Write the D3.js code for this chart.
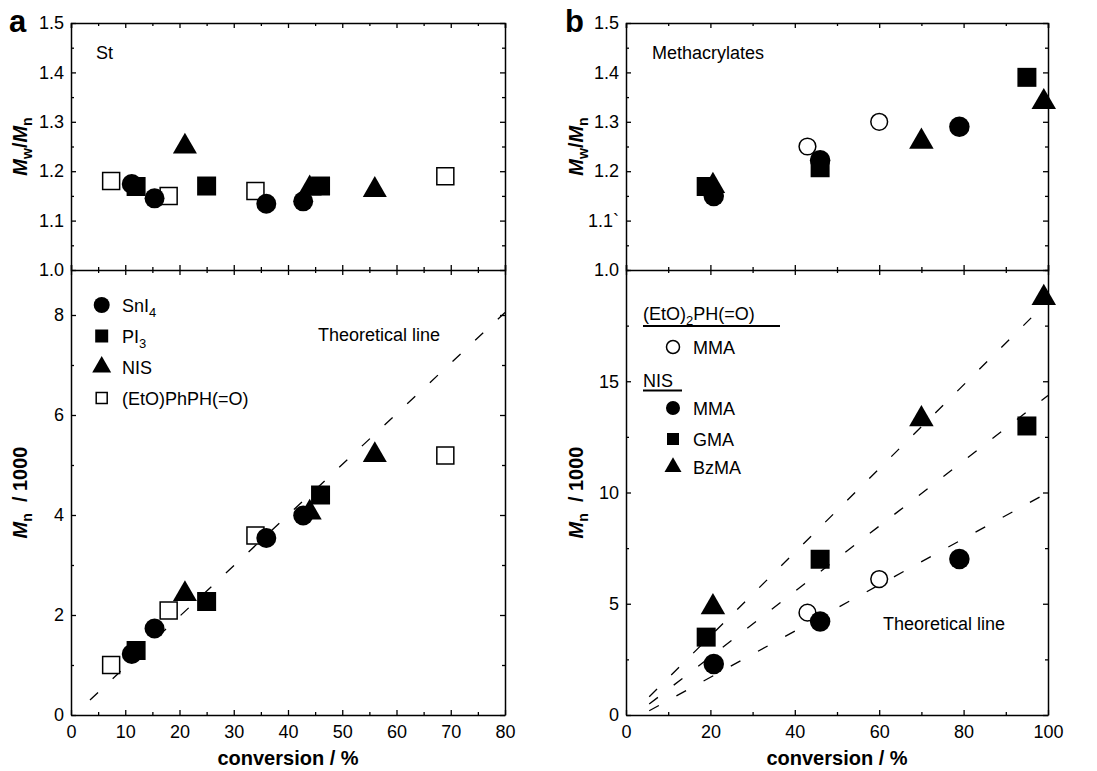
<!DOCTYPE html>
<html>
<head>
<meta charset="utf-8">
<script src="https://cdn.jsdelivr.net/npm/d3@7"></script>
<style>
  body { margin: 0; background: #fff; }
  svg { font-family: "Liberation Sans", Arial, sans-serif; }
  .axis text { font-size: 18px; fill: #000; }
  .axis path, .axis line { stroke: #000; }
  .axis path { stroke-width: 1.5; }
  .axis line { stroke-width: 1.3; }
  .lbl { font-size: 18px; fill: #000; }
</style>
</head>
<body>
<svg id="chart" width="1097" height="771"></svg>
<script>
// ---- panel a : St (conversion %, Mw/Mn, Mn/1000)
const aSnI4Conv = [11.2, 15.4, 36, 42.8];
const aSnI4Pdi  = [1.174, 1.145, 1.134, 1.139];
const aSnI4Mn   = [1.22, 1.73, 3.54, 3.99];

const aPI3Conv = [12, 25, 46];
const aPI3Pdi  = [1.169, 1.170, 1.170];
const aPI3Mn   = [1.29, 2.27, 4.40];

const aNISConv = [21, 44, 56];
const aNISPdi  = [1.25, 1.165, 1.162];
const aNISMn   = [2.42, 4.05, 5.2];

const aEtOConv = [7.4, 18, 34, 69];
const aEtOPdi  = [1.18, 1.15, 1.16, 1.19];
const aEtOMn   = [1.0, 2.09, 3.59, 5.19];

const aTheory = [[3.5, 0.3], [80, 8.05]];

// ---- panel b : methacrylates
const bEtO2MMAConv = [43, 60];
const bEtO2MMAPdi  = [1.25, 1.30];
const bEtO2MMAMn   = [4.6, 6.11];

const bMMAConv = [20.8, 46, 79];
const bMMAPdi  = [1.15, 1.222, 1.29];
const bMMAMn   = [2.29, 4.2, 7.01];

const bGMAConv = [19, 46, 95];
const bGMAPdi  = [1.169, 1.207, 1.39];
const bGMAMn   = [3.5, 7.0, 12.99];

const bBzMAConv = [20.6, 70, 99];
const bBzMAPdi  = [1.17, 1.26, 1.34];
const bBzMAMn   = [4.85, 13.3, 18.75];

const bTheoryMMA  = [[5.5, 0.19], [100, 10.0]];
const bTheoryGMA  = [[5.5, 0.49], [100, 14.36]];
const bTheoryBzMA = [[5.5, 0.82], [100, 18.6]];

// ---- ticks
const pdiTicks = [1.0, 1.1, 1.2, 1.3, 1.4, 1.5];
const pdiMinor = [1.05, 1.15, 1.25, 1.35, 1.45];
const aPdiLabels = ["1.0", "1.1", "1.2", "1.3", "1.4", "1.5"];
const bPdiLabels = ["1.0", "1.1`", "1.2", "1.3", "1.4", "1.5"];

const aXTicks = [0, 10, 20, 30, 40, 50, 60, 70, 80];
const aXMinor = [5, 15, 25, 35, 45, 55, 65, 75];
const aMnTicks = [0, 2, 4, 6, 8];
const aMnMinor = [1, 3, 5, 7];

const bXTicks = [0, 20, 40, 60, 80, 100];
const bXMinor = [10, 30, 50, 70, 90];
const bMnTicks = [0, 5, 10, 15];
const bMnMinor = [2.5, 7.5, 12.5, 17.5, 20];

const svg = d3.select("#chart");

const symbols = { circle: d3.symbolCircle, square: d3.symbolSquare, triangle: d3.symbolTriangle };

function marker(g, shape, size, open, x, y) {
  g.append("path")
    .attr("transform", `translate(${x},${y})`)
    .attr("d", d3.symbol(symbols[shape], size)())
    .attr("fill", open ? "#fff" : "#000")
    .attr("stroke", "#000")
    .attr("stroke-width", open ? 1.5 : 0);
}

function series(g, xs, ys, xScale, yScale, shape, size, open) {
  g.selectAll(null)
    .data(d3.zip(xs, ys))
    .join("path")
    .attr("transform", d => `translate(${xScale(d[0])},${yScale(d[1])})`)
    .attr("d", d3.symbol(symbols[shape], size)())
    .attr("fill", open ? "#fff" : "#000")
    .attr("stroke", "#000")
    .attr("stroke-width", open ? 1.5 : 0);
}

function theory(g, pts, xScale, yScale) {
  g.append("path")
    .datum(pts)
    .attr("fill", "none")
    .attr("stroke", "#000")
    .attr("stroke-width", 1.3)
    .attr("stroke-dasharray", "11,20")
    .attr("d", d3.line().x(d => xScale(d[0])).y(d => yScale(d[1])));
}

function addAxis(axis, tx, ty, minor) {
  const g = svg.append("g").attr("class", "axis")
    .attr("transform", `translate(${tx},${ty})`)
    .call(axis);
  if (minor) g.select(".domain").remove();
  return g;
}

function panel(p) {
  const x = d3.scaleLinear().domain(p.xDom).range([p.left, p.right]);
  const yT = d3.scaleLinear().domain([1.0, 1.5]).range([p.mid, p.top]);
  const yB = d3.scaleLinear().domain(p.mnDom).range([p.bottom, p.mid]);

  // x axes: bottom (labelled), divider (both sides), top
  addAxis(d3.axisBottom(x).tickValues(p.xTicks).tickSizeInner(-5).tickSizeOuter(0)
    .tickPadding(10).tickFormat(d3.format("d")), 0, p.bottom);
  addAxis(d3.axisBottom(x).tickValues(p.xMinor).tickSize(-3).tickFormat(""), 0, p.bottom, true);
  addAxis(d3.axisBottom(x).tickValues(p.xTicks).tickSize(-5).tickFormat(""), 0, p.mid);
  addAxis(d3.axisBottom(x).tickValues(p.xMinor).tickSize(-3).tickFormat(""), 0, p.mid, true);
  addAxis(d3.axisTop(x).tickValues(p.xTicks).tickSize(-5).tickFormat(""), 0, p.mid, true);
  addAxis(d3.axisTop(x).tickValues(p.xMinor).tickSize(-3).tickFormat(""), 0, p.mid, true);
  addAxis(d3.axisTop(x).tickValues(p.xTicks).tickSize(-5).tickFormat(""), 0, p.top);
  addAxis(d3.axisTop(x).tickValues(p.xMinor).tickSize(-3).tickFormat(""), 0, p.top, true);

  // y axes top panel
  addAxis(d3.axisLeft(yT).tickValues(pdiTicks).tickSizeInner(-5).tickSizeOuter(0)
    .tickPadding(7).tickFormat((d, i) => p.pdiLabels[i]), p.left, 0);
  addAxis(d3.axisLeft(yT).tickValues(pdiMinor).tickSize(-3).tickFormat(""), p.left, 0, true);
  addAxis(d3.axisRight(yT).tickValues(pdiTicks).tickSizeInner(-5).tickSizeOuter(0).tickFormat(""), p.right, 0);
  addAxis(d3.axisRight(yT).tickValues(pdiMinor).tickSize(-3).tickFormat(""), p.right, 0, true);

  // y axes bottom panel
  addAxis(d3.axisLeft(yB).tickValues(p.mnTicks).tickSizeInner(-5).tickSizeOuter(0)
    .tickPadding(7).tickFormat(d3.format("d")), p.left, 0);
  addAxis(d3.axisLeft(yB).tickValues(p.mnMinor).tickSize(-3).tickFormat(""), p.left, 0, true);
  addAxis(d3.axisRight(yB).tickValues(p.mnTicks).tickSizeInner(-5).tickSizeOuter(0).tickFormat(""), p.right, 0);
  addAxis(d3.axisRight(yB).tickValues(p.mnMinor).tickSize(-3).tickFormat(""), p.right, 0, true);

  // axis titles
  svg.append("text")
    .attr("x", (p.left + p.right) / 2).attr("y", 765)
    .attr("text-anchor", "middle")
    .attr("font-size", 20).attr("font-weight", "bold")
    .text("conversion / %");

  const t1 = svg.append("text")
    .attr("transform", `translate(${p.titleX},${(p.top + p.mid) / 2}) rotate(-90)`)
    .attr("text-anchor", "middle")
    .attr("font-size", 20).attr("font-weight", "bold");
  t1.append("tspan").attr("font-style", "italic").text("M");
  t1.append("tspan").attr("font-size", 14).attr("dy", 5).text("w");
  t1.append("tspan").attr("dy", -5).text("/");
  t1.append("tspan").attr("font-style", "italic").text("M");
  t1.append("tspan").attr("font-size", 14).attr("dy", 5).text("n");

  const t2 = svg.append("text")
    .attr("transform", `translate(${p.titleX},${(p.mid + p.bottom) / 2}) rotate(-90)`)
    .attr("text-anchor", "middle")
    .attr("font-size", 20).attr("font-weight", "bold");
  t2.append("tspan").attr("font-style", "italic").text("M");
  t2.append("tspan").attr("font-size", 14).attr("dy", 5).text("n");
  t2.append("tspan").attr("dy", -5).text("\u00a0 / 1000");

  // panel letter
  svg.append("text")
    .attr("x", p.letterX).attr("y", 32)
    .attr("font-size", 31).attr("font-weight", "bold")
    .text(p.letter);

  return { x, yT, yB };
}

// ---------- panel a
const pa = panel({
  left: 71, right: 505, top: 23, mid: 270, bottom: 715,
  xDom: [0, 80], mnDom: [0, 8.9],
  xTicks: aXTicks, xMinor: aXMinor, mnTicks: aMnTicks, mnMinor: aMnMinor,
  pdiLabels: aPdiLabels, titleX: 27, letter: "a", letterX: 9
});

const ga = svg.append("g");
theory(ga, aTheory, pa.x, pa.yB);
series(ga, aEtOConv, aEtOPdi, pa.x, pa.yT, "square", 289, true);
series(ga, aEtOConv, aEtOMn, pa.x, pa.yB, "square", 289, true);
series(ga, aNISConv, aNISPdi, pa.x, pa.yT, "triangle", 250, false);
series(ga, aNISConv, aNISMn, pa.x, pa.yB, "triangle", 250, false);
series(ga, aPI3Conv, aPI3Pdi, pa.x, pa.yT, "square", 361, false);
series(ga, aPI3Conv, aPI3Mn, pa.x, pa.yB, "square", 361, false);
series(ga, aSnI4Conv, aSnI4Pdi, pa.x, pa.yT, "circle", 314, false);
series(ga, aSnI4Conv, aSnI4Mn, pa.x, pa.yB, "circle", 314, false);

svg.append("text").attr("class", "lbl").attr("x", 96).attr("y", 58.5).text("St");
svg.append("text").attr("class", "lbl").attr("x", 318).attr("y", 341).text("Theoretical line");

// legend a
const legA = svg.append("g");
const legARows = [
  { shape: "circle", size: 201, open: false, y: 305, main: "SnI", sub: "4" },
  { shape: "square", size: 169, open: false, y: 336, main: "PI", sub: "3" },
  { shape: "triangle", size: 156, open: false, y: 367, main: "NIS", sub: "" },
  { shape: "square", size: 121, open: true, y: 398, main: "(EtO)PhPH(=O)", sub: "" }
];
legARows.forEach(r => {
  marker(legA, r.shape, r.size, r.open, 101.7, r.y);
  const t = legA.append("text").attr("class", "lbl").attr("x", 122).attr("y", r.y + 6.5);
  t.append("tspan").text(r.main);
  if (r.sub) t.append("tspan").attr("font-size", 13).attr("dy", 5).text(r.sub);
});

// ---------- panel b
const pb = panel({
  left: 626, right: 1048, top: 23, mid: 270, bottom: 715,
  xDom: [0, 100], mnDom: [0, 20],
  xTicks: bXTicks, xMinor: bXMinor, mnTicks: bMnTicks, mnMinor: bMnMinor,
  pdiLabels: bPdiLabels, titleX: 583, letter: "b", letterX: 565
});

const gb = svg.append("g");
theory(gb, bTheoryMMA, pb.x, pb.yB);
theory(gb, bTheoryGMA, pb.x, pb.yB);
theory(gb, bTheoryBzMA, pb.x, pb.yB);
series(gb, bEtO2MMAConv, bEtO2MMAPdi, pb.x, pb.yT, "circle", 220, true);
series(gb, bEtO2MMAConv, bEtO2MMAMn, pb.x, pb.yB, "circle", 220, true);
series(gb, bGMAConv, bGMAPdi, pb.x, pb.yT, "square", 361, false);
series(gb, bGMAConv, bGMAMn, pb.x, pb.yB, "square", 361, false);
series(gb, bBzMAConv, bBzMAPdi, pb.x, pb.yT, "triangle", 260, false);
series(gb, bBzMAConv, bBzMAMn, pb.x, pb.yB, "triangle", 260, false);
series(gb, bMMAConv, bMMAPdi, pb.x, pb.yT, "circle", 330, false);
series(gb, bMMAConv, bMMAMn, pb.x, pb.yB, "circle", 330, false);

svg.append("text").attr("class", "lbl").attr("x", 652).attr("y", 58.5).text("Methacrylates");
svg.append("text").attr("class", "lbl").attr("x", 883).attr("y", 629.5).text("Theoretical line");

// legend b
const legB = svg.append("g");
const h1 = legB.append("text").attr("class", "lbl").attr("x", 643).attr("y", 319.5);
h1.append("tspan").text("(EtO)");
h1.append("tspan").attr("font-size", 13).attr("dy", 5).text("2");
h1.append("tspan").attr("dy", -5).text("PH(=O)");
legB.append("line").attr("x1", 643).attr("x2", 780).attr("y1", 326).attr("y2", 326)
  .attr("stroke", "#000").attr("stroke-width", 2);
legB.append("text").attr("class", "lbl").attr("x", 643).attr("y", 386.5).text("NIS");
legB.append("line").attr("x1", 643).attr("x2", 682).attr("y1", 390.5).attr("y2", 390.5)
  .attr("stroke", "#000").attr("stroke-width", 2);

const legBRows = [
  { shape: "circle", size: 133, open: true, y: 347, label: "MMA" },
  { shape: "circle", size: 154, open: false, y: 408, label: "MMA" },
  { shape: "square", size: 144, open: false, y: 439, label: "GMA" },
  { shape: "triangle", size: 125, open: false, y: 467, label: "BzMA" }
];
legBRows.forEach(r => {
  marker(legB, r.shape, r.size, r.open, 673, r.y);
  legB.append("text").attr("class", "lbl").attr("x", 693).attr("y", r.y + 6.5).text(r.label);
});
</script>
</body>
</html>
